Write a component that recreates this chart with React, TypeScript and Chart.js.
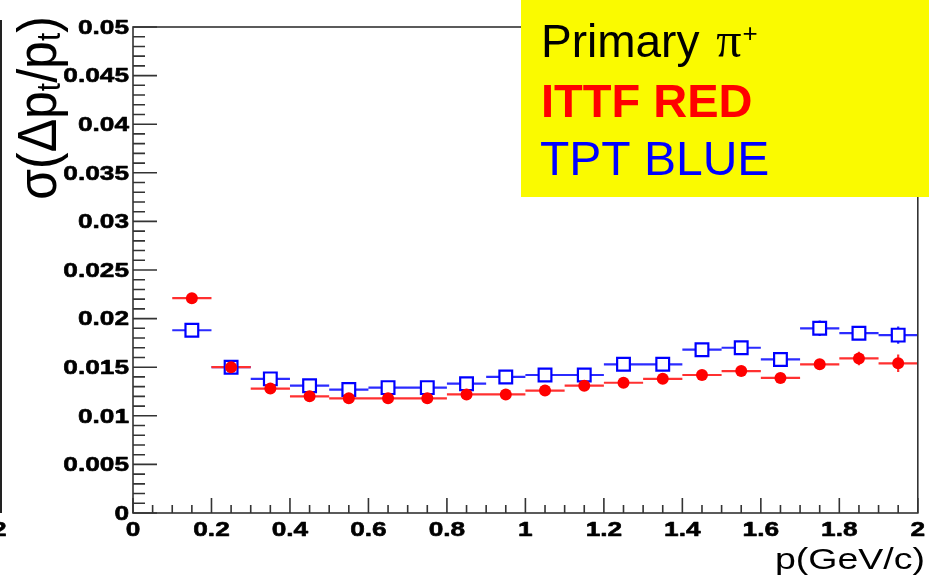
import { useEffect, useRef } from "react";
import { Chart, registerables } from "chart.js";
import type { Plugin } from "chart.js";

Chart.register(...registerables);

// Momentum bins (GeV/c): centres and half-width
const pBinCenters = [0.15, 0.25, 0.35, 0.45, 0.55, 0.65, 0.75, 0.85, 0.95, 1.05, 1.15, 1.25, 1.35, 1.45, 1.55, 1.65, 1.75, 1.85, 1.95];
const pBinHalfWidth = 0.05;

// ITTF tracker: sigma(dpt/pt) and its error
const ittfSigma = [0.0221, 0.0150, 0.0128, 0.0120, 0.0118, 0.0118, 0.0118, 0.0122, 0.0122, 0.0126, 0.0131, 0.0134, 0.0138, 0.0142, 0.0146, 0.0139, 0.0153, 0.0159, 0.0154];
const ittfErr = [0.0002, 0.0002, 0.0002, 0.0002, 0.0002, 0.0002, 0.0002, 0.0002, 0.0002, 0.0002, 0.0002, 0.0002, 0.0003, 0.0004, 0.0004, 0.0003, 0.0005, 0.0007, 0.0009];

// TPT tracker: sigma(dpt/pt) and its error
const tptSigma = [0.0188, 0.0150, 0.0138, 0.0131, 0.0127, 0.0129, 0.0129, 0.0133, 0.0140, 0.0142, 0.0142, 0.0153, 0.0153, 0.0168, 0.0170, 0.0158, 0.0190, 0.0185, 0.0183];
const tptErr = [0.0002, 0.0002, 0.0002, 0.0002, 0.0002, 0.0002, 0.0002, 0.0002, 0.0002, 0.0002, 0.0002, 0.0002, 0.0002, 0.0003, 0.0003, 0.0006, 0.0008, 0.0007, 0.0009];

// Axis ranges and tick steps
const xRange = [0, 2];
const yRange = [0, 0.05];
const xTickStep = 0.2;
const yTickStep = 0.005;
const xMinorPerMajor = 4;
const yMinorPerMajor = 5;

const RED = "#ff0000";
const BLUE = "#0000ff";
const FRAME = "#333333";
const LABEL_FONT = "bold 21px 'Liberation Sans', Arial, sans-serif";
const LABEL_STRETCH = 1.25;

function fillStretched(
  ctx: CanvasRenderingContext2D,
  text: string,
  x: number,
  y: number,
  align: "left" | "right" | "center",
  sx: number,
  heavy = 0
) {
  const w = ctx.measureText(text).width * sx;
  const left = align === "left" ? x : align === "right" ? x - w : x - w / 2;
  ctx.save();
  ctx.translate(left, y);
  ctx.scale(sx, 1);
  ctx.textAlign = "left";
  ctx.fillText(text, 0, 0);
  if (heavy > 0) {
    ctx.lineWidth = heavy;
    ctx.strokeStyle = ctx.fillStyle as string;
    ctx.lineJoin = "round";
    ctx.strokeText(text, 0, 0);
  }
  ctx.restore();
}

const fmtX = (v: number) => String(Number(v.toFixed(1)));
const fmtY = (v: number) => String(Number(v.toFixed(3)));

const rootFrame: Plugin = {
  id: "rootFrame",
  beforeDatasetsDraw(chart) {
    const ctx = chart.ctx;
    const xs = chart.scales.x;
    const ys = chart.scales.y;
    const bars = (vals: number[], errs: number[], color: string, lw: number) => {
      ctx.save();
      ctx.strokeStyle = color;
      ctx.lineWidth = lw;
      ctx.beginPath();
      pBinCenters.forEach((p, i) => {
        const py = ys.getPixelForValue(vals[i]);
        ctx.moveTo(xs.getPixelForValue(p - pBinHalfWidth), py);
        ctx.lineTo(xs.getPixelForValue(p + pBinHalfWidth), py);
        const px = xs.getPixelForValue(p);
        ctx.moveTo(px, ys.getPixelForValue(vals[i] - errs[i]));
        ctx.lineTo(px, ys.getPixelForValue(vals[i] + errs[i]));
      });
      ctx.stroke();
      ctx.restore();
    };
    bars(tptSigma, tptErr, "#2b2bff", 2.2);
    bars(ittfSigma, ittfErr, "#ff3030", 2.2);
  },
  afterDraw(chart) {
    const ctx = chart.ctx;
    const xs = chart.scales.x;
    const ys = chart.scales.y;
    const { left, right, top, bottom } = chart.chartArea;

    ctx.save();
    // frame
    ctx.strokeStyle = FRAME;
    ctx.lineWidth = 1.6;
    ctx.strokeRect(left, top, right - left, bottom - top);

    // y ticks (inward)
    const yTicks = ys.ticks.map((t) => t.value);
    ctx.beginPath();
    yTicks.forEach((v, i) => {
      const py = ys.getPixelForValue(v);
      ctx.moveTo(left, py);
      ctx.lineTo(left + 24, py);
      if (i < yTicks.length - 1) {
        const step = (yTicks[i + 1] - v) / yMinorPerMajor;
        for (let k = 1; k < yMinorPerMajor; k++) {
          const my = ys.getPixelForValue(v + k * step);
          ctx.moveTo(left, my);
          ctx.lineTo(left + 12, my);
        }
      }
    });
    // x ticks (inward)
    const xTicks = xs.ticks.map((t) => t.value);
    xTicks.forEach((v, i) => {
      const px = xs.getPixelForValue(v);
      ctx.moveTo(px, bottom);
      ctx.lineTo(px, bottom - 15);
      if (i < xTicks.length - 1) {
        const step = (xTicks[i + 1] - v) / xMinorPerMajor;
        for (let k = 1; k < xMinorPerMajor; k++) {
          const mx = xs.getPixelForValue(v + k * step);
          ctx.moveTo(mx, bottom);
          ctx.lineTo(mx, bottom - 8);
        }
      }
    });
    ctx.stroke();

    // tick labels
    ctx.fillStyle = "#000";
    ctx.font = LABEL_FONT;
    ctx.textBaseline = "middle";
    yTicks.forEach((v) => {
      fillStretched(ctx, fmtY(v), left - 4, ys.getPixelForValue(v) + 1, "right", LABEL_STRETCH, 0.6);
    });
    ctx.textBaseline = "alphabetic";
    xTicks.forEach((v) => {
      fillStretched(ctx, fmtX(v), xs.getPixelForValue(v), bottom + 23, "center", LABEL_STRETCH, 0.6);
    });
    // edge of the neighbouring pad
    fillStretched(ctx, "2", 6.5, bottom + 23, "right", LABEL_STRETCH, 0.6);
    ctx.strokeStyle = "#222";
    ctx.lineWidth = 2;
    ctx.beginPath();
    ctx.moveTo(1, 20);
    ctx.lineTo(1, bottom);
    ctx.stroke();

    // x axis title
    ctx.font = "30px 'Liberation Sans', Arial, sans-serif";
    fillStretched(ctx, "p(GeV/c)", 925, 569, "right", 1.25);

    // y axis title, rotated
    ctx.save();
    ctx.translate(56, 108);
    ctx.rotate(-Math.PI / 2);
    ctx.scale(1, 1.12);
    const big = "50px 'Liberation Sans', Arial, sans-serif";
    const sub = "30px 'Liberation Sans', Arial, sans-serif";
    const parts: [string, string, number][] = [
      ["σ(Δp", big, 0],
      ["t", sub, 4],
      ["/p", big, 0],
      ["t", sub, 4],
      [")", big, 0],
    ];
    let total = 0;
    parts.forEach(([t, f]) => {
      ctx.font = f;
      total += ctx.measureText(t).width;
    });
    let cx = -total / 2;
    ctx.textAlign = "left";
    parts.forEach(([t, f, dy]) => {
      ctx.font = f;
      ctx.fillText(t, cx, dy);
      cx += ctx.measureText(t).width;
    });
    ctx.restore();

    // legend box
    ctx.fillStyle = "#fafa00";
    ctx.fillRect(521, 0, chart.width - 521, 197);
    ctx.textAlign = "left";
    ctx.textBaseline = "alphabetic";
    ctx.fillStyle = "#000";
    ctx.font = "46px 'Liberation Sans', Arial, sans-serif";
    const prim = "Primary ";
    ctx.fillText(prim, 541, 57);
    let lx = 541 + ctx.measureText(prim).width + 4;
    ctx.font = "50px 'Liberation Serif', 'Times New Roman', serif";
    ctx.fillText("π", lx, 57);
    lx += ctx.measureText("π").width + 1;
    ctx.font = "26px 'Liberation Sans', Arial, sans-serif";
    ctx.fillText("+", lx, 42);
    ctx.fillStyle = RED;
    ctx.font = "bold 47px 'Liberation Sans', Arial, sans-serif";
    ctx.fillText("ITTF RED", 541, 117);
    ctx.fillStyle = BLUE;
    ctx.font = "48px 'Liberation Sans', Arial, sans-serif";
    ctx.fillText("TPT BLUE", 540, 175);
    ctx.restore();
  },
};

export default function App() {
  const canvasRef = useRef<HTMLCanvasElement | null>(null);

  useEffect(() => {
    const canvas = canvasRef.current;
    if (!canvas) return;
    const chart = new Chart(canvas, {
      type: "scatter",
      data: {
        datasets: [
          {
            label: "ITTF",
            data: pBinCenters.map((p, i) => ({ x: p, y: ittfSigma[i] })),
            pointStyle: "circle",
            pointRadius: 6,
            pointHoverRadius: 6,
            backgroundColor: RED,
            borderColor: RED,
            borderWidth: 0,
          },
          {
            label: "TPT",
            data: pBinCenters.map((p, i) => ({ x: p, y: tptSigma[i] })),
            pointStyle: "rect",
            pointRadius: 9,
            pointHoverRadius: 9,
            backgroundColor: "#ffffff",
            borderColor: BLUE,
            borderWidth: 2.2,
          },
        ],
      },
      options: {
        responsive: false,
        animation: false,
        devicePixelRatio: 1,
        events: [],
        layout: { padding: { left: 0, right: 10, top: 27, bottom: 0 } },
        plugins: {
          legend: { display: false },
          tooltip: { enabled: false },
          title: { display: false },
        },
        scales: {
          x: {
            type: "linear",
            min: xRange[0],
            max: xRange[1],
            ticks: { display: false, stepSize: xTickStep },
            grid: { display: false },
            border: { display: false },
            afterFit: (s: any) => {
              s.height = 65;
            },
          },
          y: {
            type: "linear",
            min: yRange[0],
            max: yRange[1],
            ticks: { display: false, stepSize: yTickStep },
            grid: { display: false },
            border: { display: false },
            afterFit: (s: any) => {
              s.width = 133;
            },
          },
        },
      },
      plugins: [rootFrame],
    });
    return () => chart.destroy();
  }, []);

  return (
    <div style={{ position: "fixed", left: 0, top: 0, width: 929, height: 578, background: "#fff" }}>
      <canvas ref={canvasRef} width={929} height={578} />
    </div>
  );
}
